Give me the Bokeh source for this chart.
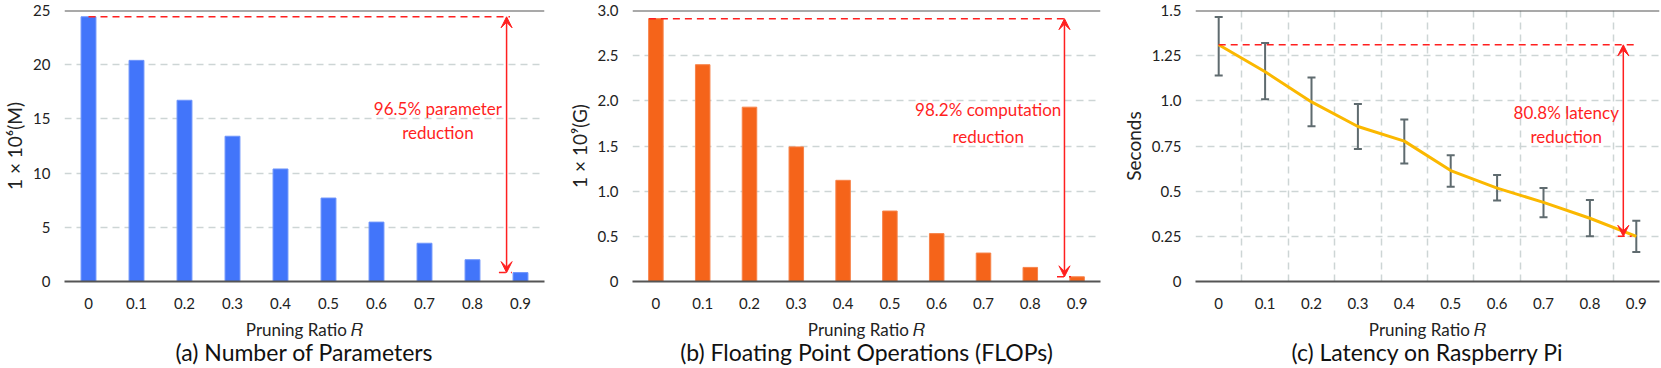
from bokeh.plotting import figure
from bokeh.models import (Range1d, FixedTicker, Span, Arrow, VeeHead, Label,
                          Whisker, TeeHead, ColumnDataSource, LinearAxis)
from bokeh.layouts import row
from bokeh.embed import file_html
from bokeh.resources import INLINE

# ---------------- data ----------------
ratios = ["0", "0.1", "0.2", "0.3", "0.4", "0.5", "0.6", "0.7", "0.8", "0.9"]
params_m = [24.42, 20.4, 16.72, 13.4, 10.38, 7.70, 5.48, 3.53, 2.01, 0.82]
flops_g = [2.91, 2.40, 1.93, 1.49, 1.12, 0.78, 0.53, 0.315, 0.156, 0.052]
latency_s = [1.31, 1.161, 0.994, 0.858, 0.777, 0.614, 0.517, 0.438, 0.350, 0.250]
latency_hi = [1.464, 1.320, 1.129, 0.983, 0.897, 0.699, 0.590, 0.517, 0.451, 0.336]
latency_lo = [1.140, 1.009, 0.860, 0.734, 0.653, 0.525, 0.449, 0.356, 0.250, 0.163]

yticks_a = [0, 5, 10, 15, 20, 25]
ylabels_a = ["0", "5", "10", "15", "20", "25"]
yticks_b = [0, 0.5, 1.0, 1.5, 2.0, 2.5, 3.0]
ylabels_b = ["0", "0.5", "1.0", "1.5", "2.0", "2.5", "3.0"]
yticks_c = [0, 0.25, 0.5, 0.75, 1.0, 1.25, 1.5]
ylabels_c = ["0", "0.25", "0.5", "0.75", "1.0", "1.25", "1.5"]

notes = [["96.5% parameter", "reduction"],
         ["98.2% computation", "reduction"],
         ["80.8% latency", "reduction"]]
captions = ["(a) Number of Parameters",
            "(b) Floating Point Operations (FLOPs)",
            "(c) Latency on Raspberry Pi"]
ylabels = ["1 \u00d7 10\u2076(M)", "1 \u00d7 10\u2079(G)", "Seconds"]
xlabel = "Pruning Ratio \U0001D445"

xs = list(range(len(ratios)))

FONT = "Lato"
RED = "#ff1f1f"
AXIS = "#555555"
GRID = "#cdd5d5"
TXT = "#222222"


def base_fig(width, ymax, bl, br, ylabel, yticks, ylabs, caption):
    p = figure(width=width, height=368, x_range=Range1d(-0.5, 9.5),
               y_range=Range1d(0, ymax), output_backend="svg",
               toolbar_location=None, min_border_left=bl, min_border_right=br,
               min_border_top=10, min_border_bottom=85)
    p.outline_line_color = None
    p.xaxis.ticker = FixedTicker(ticks=xs)
    p.xaxis.major_label_overrides = {i: r for i, r in zip(xs, ratios)}
    p.xaxis.major_tick_line_color = None
    p.xaxis.minor_tick_line_color = None
    p.xaxis.axis_line_color = AXIS
    p.xaxis.axis_line_width = 2
    p.xaxis.major_label_standoff = 10
    p.xaxis.major_label_text_font = FONT
    p.xaxis.major_label_text_font_size = "15px"
    p.xaxis.major_label_text_color = TXT
    p.xaxis.axis_label = xlabel
    p.xaxis.axis_label_text_font = FONT
    p.xaxis.axis_label_text_font_size = "17px"
    p.xaxis.axis_label_text_font_style = "normal"
    p.xaxis.axis_label_text_color = TXT
    p.xaxis.axis_label_standoff = 7

    cap = LinearAxis(ticker=FixedTicker(ticks=[]), axis_line_color=None,
                     major_tick_line_color=None, minor_tick_line_color=None,
                     major_label_text_font_size="1px", major_label_standoff=0,
                     axis_label=caption, axis_label_text_font=FONT,
                     axis_label_text_font_size="23px",
                     axis_label_text_font_style="normal",
                     axis_label_text_color="#111111", axis_label_standoff=-5)
    p.add_layout(cap, "below")

    p.yaxis.ticker = FixedTicker(ticks=yticks)
    p.yaxis.major_label_overrides = {t: l for t, l in zip(yticks, ylabs)}
    p.yaxis.axis_line_color = None
    p.yaxis.major_tick_line_color = None
    p.yaxis.minor_tick_line_color = None
    p.yaxis.major_label_standoff = 8
    p.yaxis.major_label_text_font = FONT
    p.yaxis.major_label_text_font_size = "15px"
    p.yaxis.major_label_text_color = TXT
    p.yaxis.axis_label = ylabel
    p.yaxis.axis_label_text_font = FONT
    p.yaxis.axis_label_text_font_size = "19px"
    p.yaxis.axis_label_text_font_style = "normal"
    p.yaxis.axis_label_text_color = TXT
    p.yaxis.axis_label_standoff = 4

    p.xgrid.grid_line_color = None
    p.ygrid.ticker = FixedTicker(ticks=yticks)
    p.ygrid.grid_line_color = GRID
    p.ygrid.grid_line_width = 1.5
    p.ygrid.grid_line_dash = "7 5"

    p.add_layout(Span(location=ymax, dimension="width", line_color=AXIS,
                      line_width=2))
    return p


def add_notes(p, lines, tx, ty1, ty2):
    for txt, ty in zip(lines, [ty1, ty2]):
        p.add_layout(Label(x=tx, y=ty, text=txt, text_align="center",
                           text_baseline="middle", text_color=RED,
                           text_font=FONT, text_font_size="17px"))


def add_reduction(p, top_val, bot_val, x0, x1, bx0, bx1, ax):
    p.segment(x0=[x0], y0=[top_val], x1=[x1], y1=[top_val], line_color=RED,
              line_width=1.5, line_dash="7 5")
    p.segment(x0=[bx0], y0=[bot_val], x1=[bx1], y1=[bot_val], line_color=RED,
              line_width=1.5, line_dash="7 5")
    p.add_layout(Arrow(x_start=ax, y_start=bot_val, x_end=ax, y_end=top_val,
                       line_color=RED, line_width=1.5,
                       start=VeeHead(size=11, fill_color=RED, line_color=RED),
                       end=VeeHead(size=11, fill_color=RED, line_color=RED)))


# ---------------- (a) ----------------
pa = base_fig(564, 25, 52, 20, ylabels[0], yticks_a, ylabels_a, captions[0])
pa.vbar(x=xs, top=params_m, width=0.31, fill_color="#4275fa",
        line_color="#6f95fb", line_width=1)
add_reduction(pa, params_m[0], params_m[-1], 0.0, 8.78, 8.55, 8.82, 8.71)
add_notes(pa, notes[0], 7.28, 16.0, 13.7)

# ---------------- (b) ----------------
pb = base_fig(554, 3.0, 50, 18, ylabels[1], yticks_b, ylabels_b, captions[1])
pb.vbar(x=xs, top=flops_g, width=0.31, fill_color="#f5641a",
        line_color="#f7834a", line_width=1)
add_reduction(pb, flops_g[0], flops_g[-1], -0.15, 8.8, 8.57, 8.87, 8.73)
add_notes(pb, notes[1], 7.10, 1.90, 1.61)

# ---------------- (c) ----------------
pc = base_fig(543, 1.5, 58, 2, ylabels[2], yticks_c, ylabels_c, captions[2])
pc.xgrid.ticker = FixedTicker(ticks=[i - 0.5 for i in range(len(xs) + 1)])
pc.xgrid.grid_line_color = GRID
pc.xgrid.grid_line_width = 1.5
pc.xgrid.grid_line_dash = "7 5"
src = ColumnDataSource(dict(x=xs, upper=latency_hi, lower=latency_lo))
wh = Whisker(base="x", upper="upper", lower="lower", source=src,
             dimension="height", line_color="#5f6b6f", line_width=2,
             upper_head=TeeHead(size=8, line_color="#5f6b6f", line_width=2),
             lower_head=TeeHead(size=8, line_color="#5f6b6f", line_width=2),
             level="underlay")
pc.add_layout(wh)
pc.line(x=xs, y=latency_s, line_color="#fbb800", line_width=3)
add_reduction(pc, latency_s[0], latency_s[-1], 0.0, 9.0, 8.6, 8.9, 8.72)
add_notes(pc, notes[2], 7.49, 0.938, 0.803)

layout = row(pa, pb, pc, spacing=0)
open("out.html", "w").write(file_html(layout, INLINE))
